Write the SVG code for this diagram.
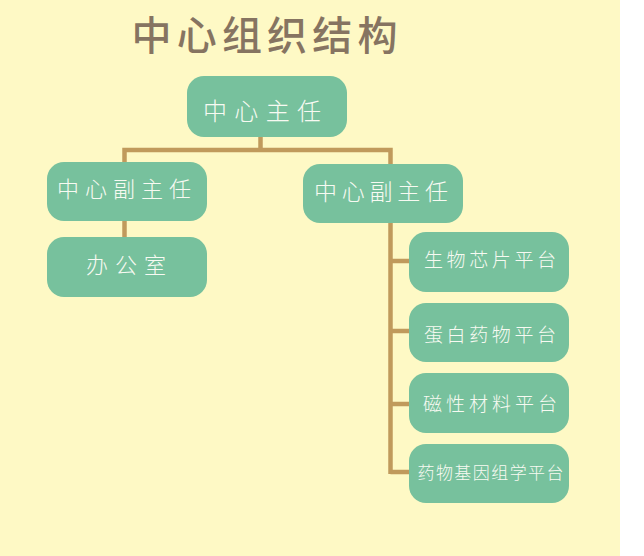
<svg xmlns="http://www.w3.org/2000/svg" width="644" height="556" viewBox="0 0 644 556">
<style>
.box{fill:#77c19d;}
.t{font-family:"Noto Sans CJK SC","Noto Sans",sans-serif;fill:#f7faf2;text-anchor:middle;font-weight:300;}
.ln{stroke:#c09a5c;stroke-width:4.5;fill:none;stroke-linecap:butt;}
</style>
<rect x="0" y="0" width="644" height="556" fill="#ffffff"/>
<rect x="0" y="0" width="620" height="556" fill="#fef9c5"/>
<text x="264.5" y="50" font-family="Noto Sans CJK SC, sans-serif" font-size="40" font-weight="500" fill="#867461" text-anchor="middle" textLength="266" lengthAdjust="spacing">中心组织结构</text>
<g id="connectors">
<path class="ln" d="M260.5 137 V150 M124.5 162 V150 H390.5 V164"/>
<path class="ln" d="M124.5 221 V237"/>
<path class="ln" d="M390.5 223 V474 M390.5 261 H409 M390.5 331 H409 M390.5 404 H409 M390.5 472 H409"/>
</g>
<g id="root">
<rect class="box" x="187" y="76" width="160" height="61" rx="17"/>
<text class="t" x="262" y="120" font-size="24" textLength="118" lengthAdjust="spacing">中心主任</text>
</g>
<g id="deputy1">
<rect class="box" x="47" y="162" width="160" height="59" rx="17"/>
<text class="t" x="124" y="197" font-size="22" textLength="134" lengthAdjust="spacing">中心副主任</text>
</g>
<g id="office">
<rect class="box" x="47" y="237" width="160" height="60" rx="17"/>
<text class="t" x="126" y="273" font-size="22" textLength="80" lengthAdjust="spacing">办公室</text>
</g>
<g id="deputy2">
<rect class="box" x="303" y="164" width="160" height="59" rx="17"/>
<text class="t" x="381" y="200" font-size="23" textLength="134" lengthAdjust="spacing">中心副主任</text>
</g>
<g id="p1">
<rect class="box" x="409" y="232" width="160" height="60" rx="17"/>
<text class="t" x="490" y="266.5" font-size="19" textLength="132" lengthAdjust="spacing">生物芯片平台</text>
</g>
<g id="p2">
<rect class="box" x="409" y="303" width="160" height="59" rx="17"/>
<text class="t" x="490" y="341.5" font-size="19" textLength="132" lengthAdjust="spacing">蛋白药物平台</text>
</g>
<g id="p3">
<rect class="box" x="409" y="373" width="160" height="60" rx="17"/>
<text class="t" x="490" y="410.5" font-size="19" textLength="134" lengthAdjust="spacing">磁性材料平台</text>
</g>
<g id="p4">
<rect class="box" x="409" y="444" width="160" height="59" rx="17"/>
<text class="t" x="490.5" y="479" font-size="17" textLength="146" lengthAdjust="spacing">药物基因组学平台</text>
</g>
</svg>
